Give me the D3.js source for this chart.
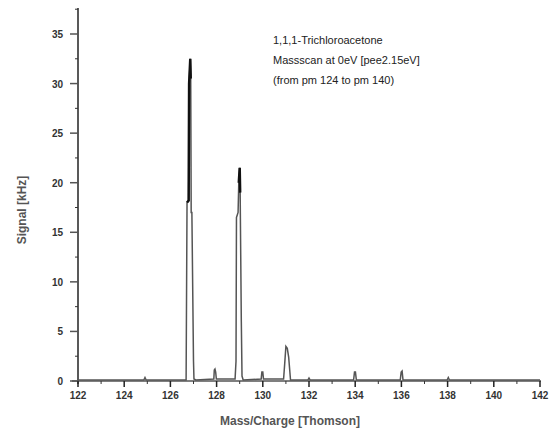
<!DOCTYPE html>
<html><head><meta charset="utf-8">
<script src="https://cdn.jsdelivr.net/npm/d3@7"></script>
<style>body{margin:0;background:#fff}text{font-family:"Liberation Sans",Arial,sans-serif}</style>
</head><body><svg id="c" width="560" height="439"></svg>
<script>
const xTicks=[122,124,126,128,130,132,134,136,138,140,142];
const yTicks=[0,5,10,15,20,25,30,35];
const mass=[122,124.85,124.9,124.95,126.68,126.72,126.79,126.81,126.86,126.88,126.9,126.93,127.0,127.02,127.1,
 127.88,127.9,127.93,127.96,127.99,
 128.8,128.84,128.86,128.93,128.96,129.0,129.02,129.07,129.1,129.15,
 129.93,129.96,130.0,130.03,
 130.9,130.95,131.0,131.06,131.12,131.2,
 131.95,132.0,132.05,
 133.93,133.97,134.01,134.05,
 135.95,135.99,136.03,136.07,
 137.98,138.03,138.08,142];
const signal=[0.1,0.1,0.35,0.1,0.1,18,18.2,30,32.5,30.5,17,17,2,0.2,0.1,
 0.2,1.1,1.2,0.9,0.2,
 0.2,2,16.5,17,20,21.5,19,6,0.5,0.1,
 0.2,0.9,0.9,0.2,
 0.2,1.8,3.5,3.3,2.4,0.1,
 0.1,0.3,0.1,
 0.1,0.9,0.9,0.1,
 0.1,0.9,1.0,0.1,
 0.1,0.35,0.1,0.1];
const svg=d3.select("#c");
const x=d3.scaleLinear().domain([122,142]).range([78,540]);
const y=d3.scaleLinear().domain([0,35]).range([381,34]);
const g=svg.append("g");
g.append("line").attr("x1",78).attr("x2",78).attr("y1",8).attr("y2",384).attr("stroke","#222").attr("stroke-width",1.5);
g.selectAll(".yt").data(yTicks).enter().append("line").attr("x1",70).attr("x2",78).attr("y1",d=>y(d)).attr("y2",d=>y(d)).attr("stroke","#555").attr("stroke-width",1.5);
g.selectAll(".ym").data(d3.range(2.5,38,5)).enter().append("line").attr("x1",75).attr("x2",78).attr("y1",d=>y(d)).attr("y2",d=>y(d)).attr("stroke","#333");
g.selectAll(".yl").data(yTicks).enter().append("text").attr("x",63).attr("y",d=>y(d)+4).attr("text-anchor","end").attr("font-size",10).attr("font-weight","bold").attr("fill","#333").text(d=>d);
g.append("line").attr("x1",72).attr("x2",541).attr("y1",381).attr("y2",381).attr("stroke","#555").attr("stroke-width",1.5);
g.selectAll(".xt").data(xTicks).enter().append("line").attr("x1",d=>x(d)).attr("x2",d=>x(d)).attr("y1",381).attr("y2",387).attr("stroke","#222").attr("stroke-width",1.5);
g.selectAll(".xm").data(d3.range(123,142,2)).enter().append("line").attr("x1",d=>x(d)).attr("x2",d=>x(d)).attr("y1",381).attr("y2",384).attr("stroke","#333");
g.selectAll(".xl").data(xTicks).enter().append("text").attr("x",d=>x(d)).attr("y",399).attr("text-anchor","middle").attr("font-size",10).attr("font-weight","bold").attr("fill","#333").text(d=>d);
const line=d3.line().x((d,i)=>x(mass[i])).y(d=>y(d));
svg.append("path").attr("d",line(signal)).attr("fill","none").attr("stroke","#555").attr("stroke-width",1.5);
const dark=d3.line().defined(d=>d!=null).x(d=>x(d[0])).y(d=>y(d[1]));
svg.append("path").attr("d",dark(signal.map((d,i)=>d>=18?[mass[i],d]:null))).attr("fill","none").attr("stroke","#111").attr("stroke-width",2.5);
svg.append("text").attr("x",290).attr("y",425).attr("text-anchor","middle").attr("font-size",12).attr("font-weight","bold").attr("fill","#555").text("Mass/Charge [Thomson]");
svg.append("text").attr("transform","translate(26,210) rotate(-90)").attr("text-anchor","middle").attr("font-size",12).attr("font-weight","bold").attr("fill","#555").text("Signal [kHz]");
const notes=["1,1,1-Trichloroacetone","Massscan at 0eV [pee2.15eV]","(from pm 124 to pm 140)"];
svg.selectAll(".n").data(notes).enter().append("text").attr("x",273).attr("y",(d,i)=>44+i*20).attr("font-size",11).attr("fill","#222").text(d=>d);
</script></body></html>
